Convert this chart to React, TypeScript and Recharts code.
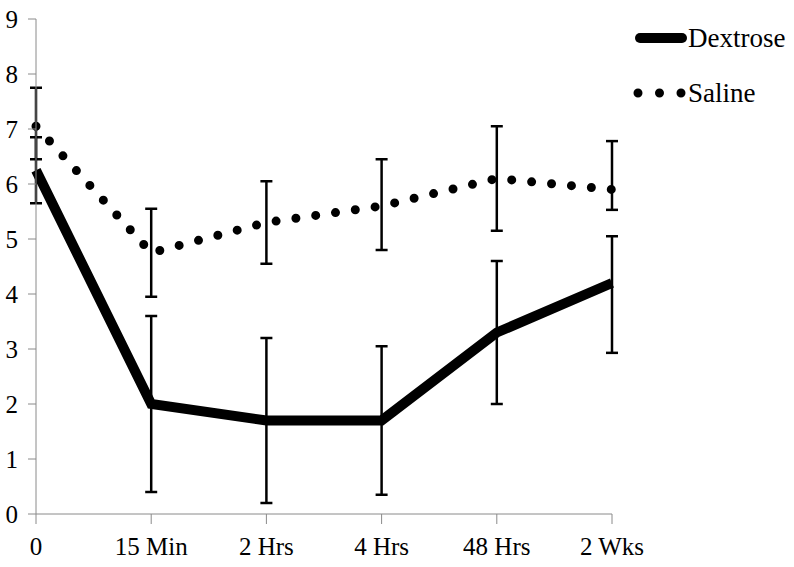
import React from "react";
import { LineChart, Line, XAxis, YAxis, ErrorBar } from "recharts";

const times = ["0", "15 Min", "2 Hrs", "4 Hrs", "48 Hrs", "2 Wks"];
const dextrose = [6.25, 2.0, 1.7, 1.7, 3.3, 4.2];
const dextroseErr = [
  [0.6, 0.6],
  [1.6, 1.6],
  [1.5, 1.5],
  [1.35, 1.35],
  [1.3, 1.3],
  [1.27, 0.85],
];
const saline = [7.05, 4.75, 5.3, 5.6, 6.1, 5.9];
const salineErr = [
  [0.6, 0.7],
  [0.8, 0.8],
  [0.75, 0.75],
  [0.8, 0.85],
  [0.95, 0.95],
  [0.37, 0.88],
];
const yTicks = [0, 1, 2, 3, 4, 5, 6, 7, 8, 9];

const data = times.map((t, i) => ({
  name: t,
  dextrose: dextrose[i],
  dextroseErr: dextroseErr[i],
  saline: saline[i],
  salineErr: salineErr[i],
}));

const font = "'Liberation Serif', serif";
const axisColor = "#8a8a8a";

function LegendBox() {
  return (
    <div
      style={{
        position: "absolute",
        left: 631,
        top: 22,
        fontFamily: font,
        fontSize: 27,
        color: "#000",
        lineHeight: "30px",
      }}
    >
      <div style={{ display: "flex", alignItems: "center", height: 32 }}>
        <svg width={57} height={14}>
          <line x1={9} y1={7} x2={51} y2={7} stroke="#000" strokeWidth={10} strokeLinecap="round" />
        </svg>
        <span>Dextrose</span>
      </div>
      <div style={{ display: "flex", alignItems: "center", height: 32, marginTop: 23 }}>
        <svg width={57} height={14}>
          <line
            x1={7}
            y1={7}
            x2={52}
            y2={7}
            stroke="#000"
            strokeWidth={9}
            strokeLinecap="round"
            strokeDasharray="0 21.5"
          />
        </svg>
        <span>Saline</span>
      </div>
    </div>
  );
}

export default function App() {
  return (
    <div style={{ position: "absolute", left: 0, top: 0, width: 794, height: 567, background: "#fff" }}>
      <LineChart
        width={794}
        height={567}
        data={data}
        margin={{ top: 19, right: 182, left: 0, bottom: 0 }}
      >
        <XAxis
          dataKey="name"
          height={53}
          stroke={axisColor}
          tickSize={10}
          tickMargin={13}
          tick={{ fill: "#000", fontSize: 25, fontFamily: font }}
          interval={0}
        />
        <YAxis
          width={36}
          domain={[0, 9]}
          ticks={yTicks}
          stroke={axisColor}
          tickSize={8}
          tickMargin={10}
          tick={{ fill: "#000", fontSize: 25, fontFamily: font }}
        />
        <Line
          dataKey="dextrose"
          type="linear"
          stroke="#000"
          strokeWidth={10}
          dot={false}
          activeDot={false}
          isAnimationActive={false}
        >
          <ErrorBar dataKey="dextroseErr" direction="y" width={6} stroke="#000" strokeWidth={2.5} />
        </Line>
        <Line
          dataKey="saline"
          type="linear"
          stroke="#000"
          strokeWidth={9}
          strokeLinecap="round"
          strokeDasharray="0 20"
          dot={false}
          activeDot={false}
          isAnimationActive={false}
        >
          <ErrorBar dataKey="salineErr" direction="y" width={6} stroke="#000" strokeWidth={2.5} />
        </Line>
      </LineChart>
      <LegendBox />
    </div>
  );
}
